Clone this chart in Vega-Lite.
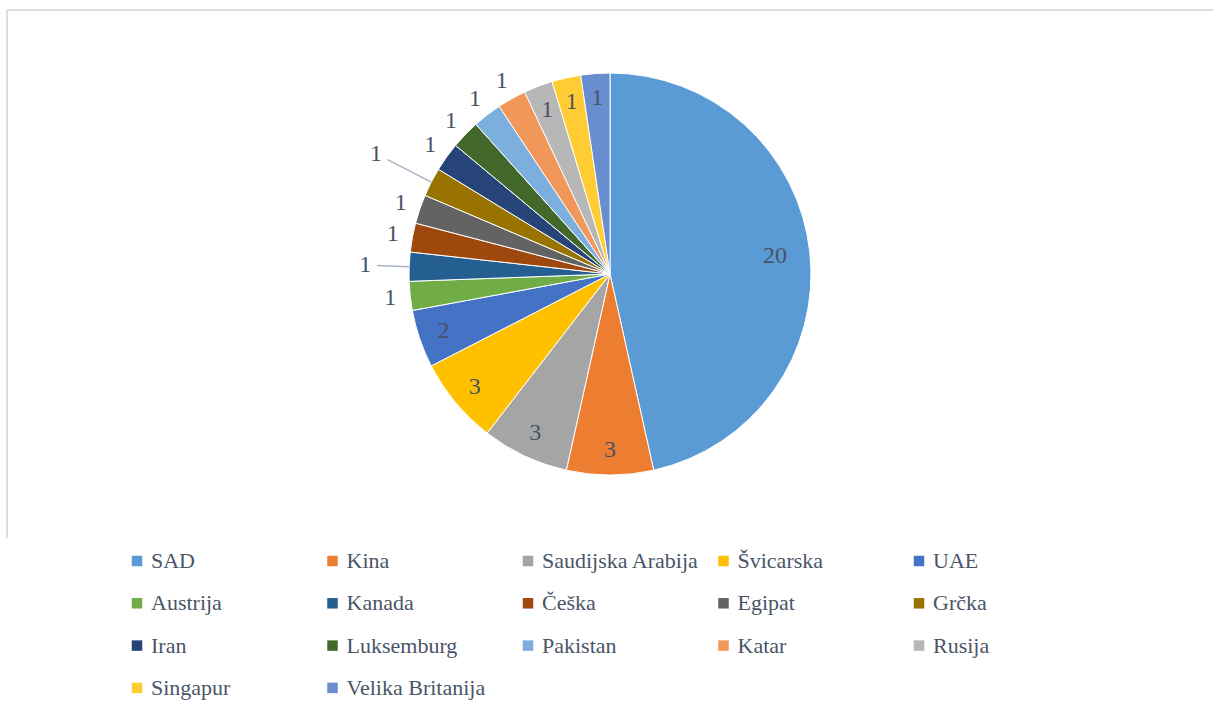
{
  "$schema": "https://vega.github.io/schema/vega-lite/v6.json",
  "autosize": {"type": "none"},
  "padding": {"left": 7, "top": 10, "right": 0, "bottom": 175},
  "width": 1206,
  "height": 528,
  "background": "white",
  "view": {"stroke": "#D9DEE6", "strokeWidth": 2, "strokeDash": [1206, 1734, 528, 0]},
  "config": {
    "text": {"font": "Liberation Serif, Times New Roman, serif"}
  },
  "data": {
    "values": [
      {"country": "SAD", "value": 20},
      {"country": "Kina", "value": 3},
      {"country": "Saudijska Arabija", "value": 3},
      {"country": "Švicarska", "value": 3},
      {"country": "UAE", "value": 2},
      {"country": "Austrija", "value": 1},
      {"country": "Kanada", "value": 1},
      {"country": "Češka", "value": 1},
      {"country": "Egipat", "value": 1},
      {"country": "Grčka", "value": 1},
      {"country": "Iran", "value": 1},
      {"country": "Luksemburg", "value": 1},
      {"country": "Pakistan", "value": 1},
      {"country": "Katar", "value": 1},
      {"country": "Rusija", "value": 1},
      {"country": "Singapur", "value": 1},
      {"country": "Velika Britanija", "value": 1}
    ]
  },
  "transform": [{"window": [{"op": "row_number", "as": "idx"}]}],
  "encoding": {
    "theta": {"field": "value", "type": "quantitative", "stack": true},
    "order": {"field": "idx", "type": "quantitative"}
  },
  "layer": [
    {
      "mark": {"type": "arc", "outerRadius": 201, "stroke": "white", "strokeWidth": 1},
      "encoding": {
        "color": {
          "field": "country",
          "type": "nominal",
          "sort": null,
          "scale": {
            "domain": ["SAD", "Kina", "Saudijska Arabija", "Švicarska", "UAE", "Austrija", "Kanada", "Češka", "Egipat", "Grčka", "Iran", "Luksemburg", "Pakistan", "Katar", "Rusija", "Singapur", "Velika Britanija"],
            "range": ["#5B9BD5", "#ED7D31", "#A5A5A5", "#FFC000", "#4472C4", "#70AD47", "#255E91", "#9E480E", "#636363", "#997300", "#264478", "#43682B", "#7CAFDD", "#F1975A", "#B7B7B7", "#FFCD33", "#698ED0"]
          },
          "legend": {
            "orient": "none",
            "direction": "horizontal",
            "legendX": 119,
            "legendY": 540,
            "columns": 5,
            "gridAlign": "all",
            "title": null,
            "symbolType": "square",
            "symbolSize": 110,
            "symbolStrokeWidth": 0,
            "symbolOpacity": 1,
            "labelFont": "Liberation Serif, Times New Roman, serif",
            "labelFontSize": 22,
            "labelColor": "#4A5568",
            "labelLimit": 400,
            "labelOffset": 3,
            "columnPadding": 12.5,
            "rowPadding": 20.3,
            "padding": 0
          }
        }
      }
    },
    {
      "mark": {"type": "arc", "radius": 233, "radius2": 201, "padAngle": 0.5, "fill": "transparent", "stroke": "#A9B4C2", "strokeWidth": 1.5},
      "encoding": {
        "strokeOpacity": {"condition": {"test": "datum.country === 'Kanada'", "value": 1}, "value": 0}
      }
    },
    {
      "mark": {"type": "arc", "radius": 250, "radius2": 201, "padAngle": 0.5, "fill": "transparent", "stroke": "#A9B4C2", "strokeWidth": 1.5},
      "encoding": {
        "strokeOpacity": {"condition": {"test": "datum.country === 'Grčka'", "value": 1}, "value": 0}
      }
    },
    {
      "mark": {"type": "text", "radius": 166, "fontSize": 24, "color": "#485366", "font": "Liberation Serif, Times New Roman, serif"},
      "encoding": {
        "text": {"condition": {"test": "datum.country === 'SAD'", "field": "value", "type": "quantitative"}, "value": ""}
      }
    },
    {
      "mark": {"type": "text", "radius": 176, "fontSize": 24, "color": "#485366", "font": "Liberation Serif, Times New Roman, serif"},
      "encoding": {
        "text": {"condition": {"test": "indexof(['Kina','Saudijska Arabija','Švicarska','UAE','Rusija','Singapur','Velika Britanija'], datum.country) >= 0", "field": "value", "type": "quantitative"}, "value": ""}
      }
    },
    {
      "mark": {"type": "text", "radius": 221, "fontSize": 24, "color": "#485366", "font": "Liberation Serif, Times New Roman, serif"},
      "encoding": {
        "text": {"condition": {"test": "indexof(['Austrija','Češka','Egipat','Iran','Luksemburg','Pakistan','Katar'], datum.country) >= 0", "field": "value", "type": "quantitative"}, "value": ""}
      }
    },
    {
      "mark": {"type": "text", "radius": 245, "fontSize": 24, "color": "#485366", "font": "Liberation Serif, Times New Roman, serif"},
      "encoding": {
        "text": {"condition": {"test": "datum.country === 'Kanada'", "field": "value", "type": "quantitative"}, "value": ""}
      }
    },
    {
      "mark": {"type": "text", "radius": 263, "fontSize": 24, "color": "#485366", "font": "Liberation Serif, Times New Roman, serif"},
      "encoding": {
        "text": {"condition": {"test": "datum.country === 'Grčka'", "field": "value", "type": "quantitative"}, "value": ""}
      }
    }
  ]
}
